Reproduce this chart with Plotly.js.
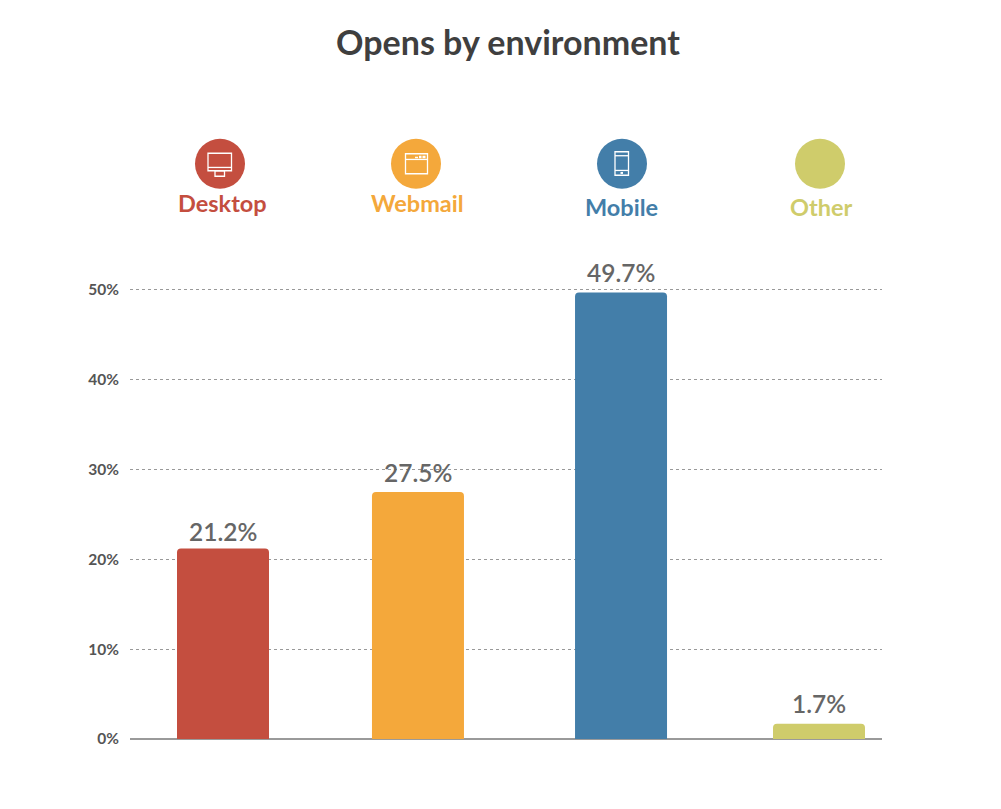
<!DOCTYPE html>
<html>
<head>
<meta charset="utf-8">
<script src="https://cdn.plot.ly/plotly-3.0.1.min.js"></script>
<style>html,body{margin:0;padding:0;background:#fff}#chart{width:1001px;height:809px}</style>
</head>
<body>
<div id="chart"></div>
<script>
const chartTitle = 'Opens by environment';
const categories = ['Desktop', 'Webmail', 'Mobile', 'Other'];
const opensPercent = [21.2, 27.5, 49.7, 1.7];
const yTickValues = [0, 10, 20, 30, 40, 50];
const yTickLabels = ['0%', '10%', '20%', '30%', '40%', '50%'];
const seriesColors = ['#c44e3f', '#f4a83b', '#437ea9', '#cfcc6b'];

const FONT = 'Lato, "Open Sans", sans-serif';
const yTop = 50.2;
const P = {l:130, r:882, t:739 - yTop*8.98, b:739};
const W = 1001, H = 809;
const px = x => (x - P.l) / (P.r - P.l);
const py = y => (P.b - y) / (P.b - P.t);
const step = 198.67, barW = 92;
const barShift = [0, -3.7, 0.7, 0];
const labelLift = [17, 19, 19.5, 20];
const legendCircleX = [220, 416, 622, 820];
const legendCircleY = 164, R = 25;
const legendLabelX = [222, 417, 621.5, 821];
const legendLabelY = [203, 203.5, 207, 207];

const shapes = [];
legendCircleX.forEach((cx, i) => shapes.push({type:'circle', xref:'paper', yref:'paper',
  x0:px(cx-R), x1:px(cx+R), y0:py(legendCircleY+R), y1:py(legendCircleY-R),
  fillcolor:seriesColors[i], line:{width:0}}));
const wl = {color:'#ffffff', width:1.3};
const rect = (x0,y0,x1,y1,fill) => shapes.push({type:'rect', xref:'paper', yref:'paper',
  x0:px(x0), x1:px(x1), y0:py(y1), y1:py(y0),
  line: fill ? {width:0} : wl, fillcolor: fill ? '#ffffff' : 'rgba(0,0,0,0)'});
const seg = (x0,y0,x1,y1) => shapes.push({type:'line', xref:'paper', yref:'paper',
  x0:px(x0), x1:px(x1), y0:py(y0), y1:py(y1), line:wl});
// desktop icon
rect(208,153.5,231.5,171); seg(208,167.7,231.5,167.7); rect(215,171,224.5,176.5);
// webmail icon
rect(405.5,154,427.5,174); seg(405.5,159.7,427.5,159.7);
rect(415,157,418,158.5,true); rect(419,156,421.5,158.5,true); rect(422.5,156,425.5,158.5,true);
// mobile icon
rect(615,152,628.5,175.5); seg(615,156,628.5,156); seg(615,170.7,628.5,170.7); rect(620.5,172.2,623,174.2,true);

const annotations = categories.map((c, i) => ({
  text:c, xref:'paper', yref:'paper', x:px(legendLabelX[i]), y:py(legendLabelY[i]),
  xanchor:'center', yanchor:'middle', showarrow:false,
  font:{family:FONT, size:23.5, weight:700, color:seriesColors[i]}
})).concat(categories.map((c, i) => ({
  text:opensPercent[i].toFixed(1) + '%', xref:'x', yref:'y', x:c, y:opensPercent[i],
  xanchor:'center', yanchor:'middle', yshift:labelLift[i], xshift:barShift[i], showarrow:false,
  font:{family:FONT, size:24.5, color:'#666666', weight:600}
})));

Plotly.newPlot('chart', [{
  type:'bar', x:categories, y:opensPercent,
  width:barW/step,
  offset:barShift.map(s => (s - barW/2)/step),
  marker:{color:seriesColors, line:{width:0}},
  cliponaxis:false,
  hoverinfo:'x+y'
}], {
  width:W, height:H, showlegend:false,
  paper_bgcolor:'#ffffff', plot_bgcolor:'#ffffff',
  margin:{l:P.l, r:W-P.r, t:P.t, b:H-P.b, pad:0},
  barcornerradius:4,
  title:{text:chartTitle, x:508/W, xanchor:'center', y:1-43/H, yanchor:'middle',
    font:{family:FONT, size:34, weight:700, color:'#3f3f3f'}},
  xaxis:{type:'category', categoryorder:'array', categoryarray:categories,
    range:[(P.l-223)/step, 3+(P.r-819)/step], showticklabels:false, ticks:'',
    showgrid:false, zeroline:false, showline:false, fixedrange:true},
  yaxis:{range:[0,yTop], tickvals:yTickValues, ticktext:yTickLabels, ticks:'', ticklen:0,
    ticklabelstandoff:10,
    showgrid:true, gridcolor:'#999999', gridwidth:1, griddash:'3px,3px',
    zeroline:true, zerolinecolor:'#9a9a9a', zerolinewidth:1.5, showline:false,
    tickfont:{family:FONT, size:15.5, weight:700, color:'#555555'}, fixedrange:true},
  shapes, annotations
}, {displayModeBar:false, staticPlot:true});
</script>
</body>
</html>
